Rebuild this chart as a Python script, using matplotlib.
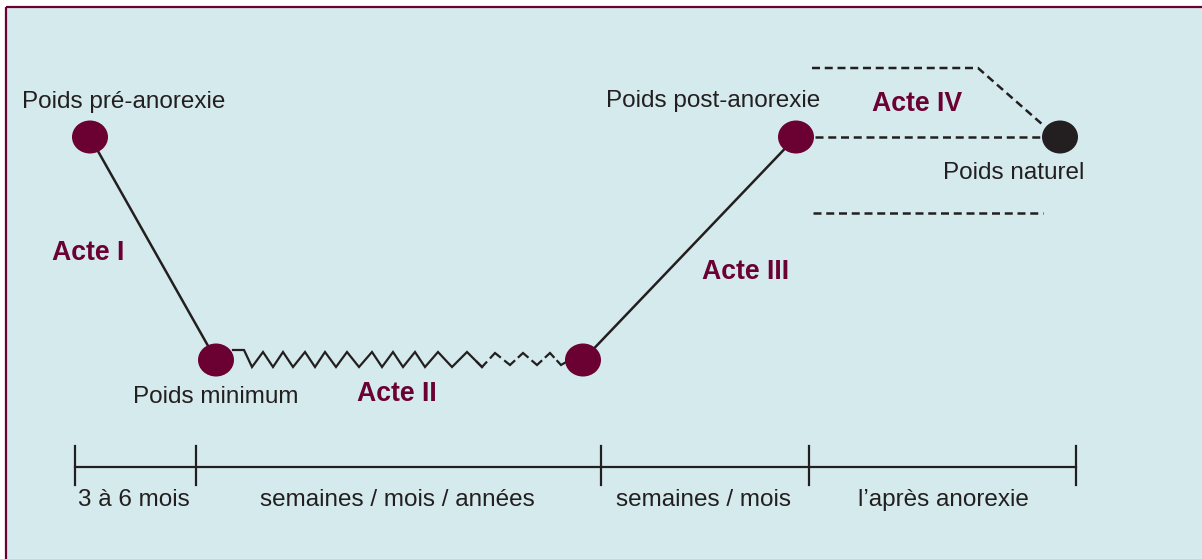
import numpy as np
import matplotlib.pyplot as plt
from matplotlib.patches import Ellipse, Rectangle

# poids (centres des points, en pixels de l'image)
pts_x = [90, 216, 583, 796, 1060]
pts_y = [137, 360, 360, 137, 137]
pts_col = ['#6b0033', '#6b0033', '#6b0033', '#6b0033', '#231f20']

# acte II : zigzag plein puis pointillé
zig_x = [233, 244, 252, 263, 273, 283, 293, 305, 315, 325, 336, 347, 359,
         372, 382, 393, 403, 415, 425, 438, 452, 467, 482]
zig_y = [350, 350, 367, 352, 367, 352, 367, 352, 367, 352, 367, 352, 367,
         352, 367, 352, 367, 352, 367, 352, 367, 352, 367]
zigd_x = [467, 482, 495, 510, 523, 537, 550, 561, 575]
zigd_y = [352, 367, 353, 365, 353, 365, 353, 365, 357]

# acte IV : pointillés
dash_top_x = [812, 978, 1043]
dash_top_y = [68, 68, 125]
dash_mid_x = [815, 1043]
dash_mid_y = [137, 137]
dash_bot_x = [813, 1043]
dash_bot_y = [213, 213]

# échelle de temps
ticks_x = [75, 196, 601, 809, 1076]
periodes = ['3 à 6 mois', 'semaines / mois / années', 'semaines / mois', 'l\u2019après anorexie']
periodes_x = [134, 397, 703, 943]

labels = ['Poids pré-anorexie', 'Poids minimum', 'Poids post-anorexie', 'Poids naturel']
labels_x = [124, 216, 713, 1014]
labels_y = [108, 403, 107, 179]

actes = ['Acte I', 'Acte II', 'Acte III', 'Acte IV']
actes_x = [88, 397, 746, 917]
actes_y = [260, 401, 279, 111]

bg = '#d5eaed'
maroon = '#6b0033'
ink = '#231f20'

plt.rcParams['font.family'] = ['Liberation Sans', 'DejaVu Sans']

fig = plt.figure(figsize=(12.02, 5.59), dpi=100)
ax = fig.add_axes([0, 0, 1, 1])
ax.set_xlim(0, 1202)
ax.set_ylim(559, 0)
ax.axis('off')

ax.add_patch(Rectangle((6, 7), 1200, 560, facecolor=bg, edgecolor='none', zorder=0))
ax.plot([6, 1202], [7, 7], color=maroon, lw=1.6, solid_capstyle='butt')
ax.plot([6, 6], [7, 559], color=maroon, lw=1.6, solid_capstyle='butt')

# lignes pleines
ax.plot(pts_x[:2], pts_y[:2], color=ink, lw=1.8, zorder=2)
ax.plot(pts_x[2:4], pts_y[2:4], color=ink, lw=1.8, zorder=2)
ax.plot(zig_x, zig_y, color=ink, lw=1.6, zorder=2, solid_joinstyle='miter')

# zigzag en pointillé : on ne garde que les sommets
f = 0.33
for i in range(1, len(zigd_x) - 1):
    x0, y0 = zigd_x[i], zigd_y[i]
    xa = x0 + f * (zigd_x[i - 1] - x0)
    ya = y0 + f * (zigd_y[i - 1] - y0)
    xb = x0 + f * (zigd_x[i + 1] - x0)
    yb = y0 + f * (zigd_y[i + 1] - y0)
    ax.plot([xa, x0, xb], [ya, y0, yb], color=ink, lw=1.6, zorder=2,
            solid_joinstyle='miter')

for xs, ys in [(dash_top_x, dash_top_y), (dash_mid_x, dash_mid_y), (dash_bot_x, dash_bot_y)]:
    ax.plot(xs, ys, color=ink, lw=1.8, dashes=(3.2, 1.9), zorder=2)

for x, y, c in zip(pts_x, pts_y, pts_col):
    ax.add_patch(Ellipse((x, y), 36, 33, facecolor=c, edgecolor='none', zorder=3))

# échelle
ax.plot([ticks_x[0], ticks_x[-1]], [467, 467], color=ink, lw=1.6)
for t in ticks_x:
    ax.plot([t, t], [446, 485], color=ink, lw=1.6)
for s, x in zip(periodes, periodes_x):
    ax.text(x, 506, s, ha='center', va='baseline', fontsize=17.5, color=ink)

for s, x, y in zip(labels, labels_x, labels_y):
    ax.text(x, y, s, ha='center', va='baseline', fontsize=17.5, color=ink)

for s, x, y in zip(actes, actes_x, actes_y):
    ax.text(x, y, s, ha='center', va='baseline', fontsize=19.2,
            fontweight='bold', color=maroon)

plt.savefig('out.png', dpi=100, facecolor='white')
